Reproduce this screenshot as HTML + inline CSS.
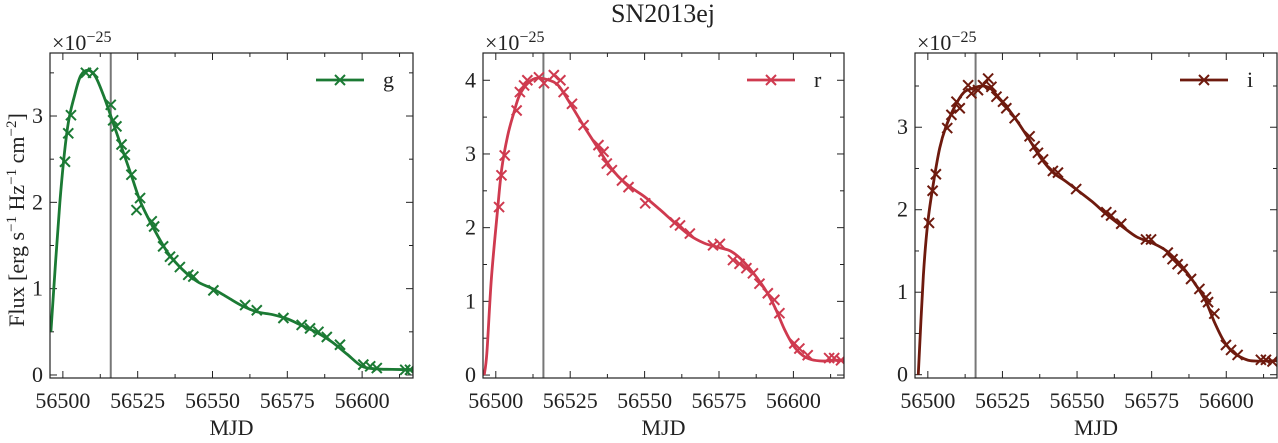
<!DOCTYPE html>
<html><head><meta charset="utf-8">
<style>
body{margin:0;background:#fff;width:1278px;height:438px;overflow:hidden;font-family:"Liberation Serif",serif;}
svg text{font-family:"Liberation Serif",serif;fill:#222;}
</style></head>
<body>
<svg id="fig" width="1278" height="438" xmlns="http://www.w3.org/2000/svg">
<text x="663" y="22" style="font-size:26px" text-anchor="middle">SN2013ej</text>
<text transform="translate(24,220) rotate(-90)" style="font-size:22px" text-anchor="middle">Flux [erg s<tspan baseline-shift="super" style="font-size:15px">−1</tspan> Hz<tspan baseline-shift="super" style="font-size:15px">−1</tspan> cm<tspan baseline-shift="super" style="font-size:15px">−2</tspan>]</text>
</svg>
<script>
const xTicks=[56500,56525,56550,56575,56600];
const xDomain=[56495.7,56617];
const peakMJD=56516;
const gX=[56500.7,56501.8,56502.7,56507.7,56510.1,56516,56516.8,56517.9,56519.6,56520.7,56522.9,56525.8,56524.6,56529.7,56530.5,56533.5,56535.8,56536.9,56539.1,56541.9,56543.6,56550.3,56560.9,56564.8,56573.7,56579.8,56582.6,56585.4,56588.2,56592.6,56600.4,56602.7,56604.9,56614.4,56616];
const gY=[2.47,2.80,3.01,3.50,3.50,3.13,2.95,2.88,2.67,2.55,2.32,2.05,1.91,1.78,1.72,1.49,1.37,1.33,1.25,1.16,1.14,0.98,0.81,0.75,0.66,0.58,0.54,0.50,0.44,0.35,0.12,0.10,0.08,0.06,0.06];
const gFitX=[56496,56499,56501.5,56504,56506,56508.5,56511,56514,56517,56520,56523,56526,56530,56535,56540,56545,56550,56555,56560,56565,56570,56575,56580,56585,56590,56595,56600,56605,56610,56617];
const gFitY=[0.5,2.0,2.85,3.25,3.47,3.53,3.45,3.2,2.9,2.6,2.3,2.0,1.72,1.42,1.22,1.08,1.0,0.9,0.8,0.73,0.7,0.65,0.57,0.49,0.38,0.24,0.1,0.07,0.065,0.06];
const rX=[56501.1,56501.9,56503,56507,56508.1,56509.5,56510.6,56514.5,56516.2,56519.5,56521.7,56522.8,56525.6,56529.5,56534.5,56536.2,56537.3,56539,56542.4,56544.6,56550.2,56560.2,56561.9,56565.2,56573,56575.3,56579.7,56581.9,56584.2,56586.4,56588.6,56591.4,56593.6,56595.3,56600.3,56602,56604.8,56612,56613.7,56616];
const rY=[2.28,2.71,2.98,3.59,3.84,3.93,4.0,4.04,3.96,4.07,4.0,3.84,3.68,3.39,3.12,3.03,2.87,2.78,2.64,2.55,2.33,2.07,2.03,1.92,1.76,1.78,1.56,1.51,1.45,1.38,1.24,1.11,1.02,0.84,0.43,0.36,0.27,0.23,0.23,0.20];
const rFitX=[56496.1,56497,56498.5,56500.5,56502,56504,56506,56508,56511,56514,56518,56521,56524,56527,56530,56534,56538,56542,56546,56550,56555,56560,56565,56570,56575,56579,56583,56587,56591,56594,56597,56600,56603,56606,56610,56614,56617];
const rFitY=[0,0.3,1.3,2.2,2.8,3.25,3.55,3.8,3.97,4.03,4.0,3.93,3.75,3.55,3.35,3.1,2.85,2.66,2.53,2.42,2.25,2.07,1.9,1.79,1.73,1.68,1.55,1.36,1.13,0.9,0.62,0.4,0.27,0.21,0.19,0.2,0.2];
const iX=[56500.4,56501.6,56502.7,56506.5,56507.9,56509.6,56510.7,56513.5,56514.6,56516.8,56518.5,56520.2,56521.3,56523,56525.2,56526.3,56529.1,56534.1,56535.8,56536.9,56538.6,56541.9,56543.6,56549.7,56559.8,56561.4,56564.8,56573.1,56574.8,56580.4,56582,56583.7,56585.4,56588.2,56591,56593.2,56593.9,56596,56599.9,56601.6,56603.8,56611.6,56613.3,56615.5];
const iY=[1.84,2.23,2.43,2.99,3.15,3.31,3.23,3.51,3.41,3.45,3.51,3.59,3.49,3.37,3.31,3.23,3.11,2.89,2.77,2.69,2.61,2.47,2.45,2.25,1.97,1.93,1.83,1.64,1.64,1.48,1.40,1.34,1.28,1.16,1.04,0.94,0.88,0.74,0.36,0.30,0.24,0.18,0.18,0.16];
const iFitX=[56496.8,56498.5,56500,56502,56504,56506,56509,56512,56515,56518,56521,56524,56527,56530,56534,56538,56542,56546,56550,56555,56560,56565,56570,56575,56580,56585,56589,56593,56596,56599,56602,56605,56608,56612,56617];
const iFitY=[0,1.2,1.85,2.35,2.75,3.0,3.25,3.42,3.47,3.5,3.47,3.35,3.22,3.07,2.85,2.62,2.45,2.35,2.24,2.1,1.94,1.8,1.67,1.6,1.5,1.32,1.13,0.9,0.64,0.42,0.28,0.21,0.17,0.165,0.17];

(function(){
const NS="http://www.w3.org/2000/svg";
const svg=document.getElementById('fig');
function mk(tag,attrs,parent){const e=document.createElementNS(NS,tag);for(const k in attrs)e.setAttribute(k,attrs[k]);(parent||svg).appendChild(e);return e;}
const panels=[
 {name:'g',left:50,right:413,yDom:[-0.035,3.73],yTicks:[0,1,2,3],color:'#1b7a34',X:gX,Y:gY,FX:gFitX,FY:gFitY},
 {name:'r',left:483,right:844,yDom:[-0.04,4.37],yTicks:[0,1,2,3,4],color:'#cf3a4f',X:rX,Y:rY,FX:rFitX,FY:rFitY},
 {name:'i',left:915,right:1277,yDom:[-0.04,3.9],yTicks:[0,1,2,3],color:'#6e1a0e',X:iX,Y:iY,FX:iFitX,FY:iFitY}
];
const yTop=53,yBot=378;
const FS='font-size:22px';
panels.forEach(p=>{
 const g=mk('g',{});
 
 
 const sx=v=>p.left+(v-xDomain[0])/(xDomain[1]-xDomain[0])*(p.right-p.left);
 const sy=v=>yBot-(v-p.yDom[0])/(p.yDom[1]-p.yDom[0])*(yBot-yTop);
 for(let v=56500;v<=56617;v+=12.5){
  const major=(v-56500)%25===0, L=major?7:4, x=sx(v);
  const t1=mk('line',{x1:x,x2:x,y1:yBot,y2:yBot-L,stroke:'#222','stroke-width':1},g);
  
  
  const t2=mk('line',{x1:x,x2:x,y1:yTop,y2:yTop+L,stroke:'#222','stroke-width':1},g);
  
  
 }
 xTicks.forEach(v=>{
  const t=mk('text',{x:sx(v),y:408,style:FS,'text-anchor':'middle'},g);t.textContent=v;
  
  
 });
 for(let v=0;v<=p.yDom[1];v+=0.5){
  const major=Math.abs(v-Math.round(v))<1e-6, L=major?7:4, y=sy(v);
  const t1=mk('line',{x1:p.left,x2:p.left+L,y1:y,y2:y,stroke:'#222','stroke-width':1},g);
  
  
  const t2=mk('line',{x1:p.right,x2:p.right-L,y1:y,y2:y,stroke:'#222','stroke-width':1},g);
  
  
 }
 p.yTicks.forEach(v=>{
  const t=mk('text',{x:p.left-7,y:sy(v)+7,style:FS,'text-anchor':'end'},g);t.textContent=v;
  
  
 });
 const xl=mk('text',{x:(p.left+p.right)/2,y:435,style:FS,'text-anchor':'middle'},g);xl.textContent='MJD';
 
 
 const sc=mk('text',{x:p.left+2,y:50,style:FS},g);
 sc.innerHTML='×10<tspan baseline-shift="super" style="font-size:16px">−25</tspan>';
 
 
 const vl=mk('line',{x1:sx(peakMJD),x2:sx(peakMJD),y1:yTop,y2:yBot,stroke:'#777','stroke-width':2},g);
 
 
 const cid='clip'+p.name;
 const cp=mk('clipPath',{id:cid},g);mk('rect',{x:p.left,y:yTop,width:p.right-p.left,height:yBot-yTop},cp);
 const cg=mk('g',{'clip-path':'url(#'+cid+')'},g);
 const pts=p.FX.map((x,k)=>[sx(x),sy(p.FY[k])]);
 let d='M'+pts[0][0]+','+pts[0][1];
 for(let k=0;k<pts.length-1;k++){
  const p0=pts[Math.max(0,k-1)],p1=pts[k],p2=pts[k+1],p3=pts[Math.min(pts.length-1,k+2)];
  const c1=[p1[0]+(p2[0]-p0[0])/6,p1[1]+(p2[1]-p0[1])/6],c2=[p2[0]-(p3[0]-p1[0])/6,p2[1]-(p3[1]-p1[1])/6];
  d+=' C'+c1.join(',')+' '+c2.join(',')+' '+p2.join(',');
 }
 const fl=mk('path',{d:d,fill:'none',stroke:p.color,'stroke-width':2.8},cg);
 
 
 p.X.forEach((x,k)=>{
  const cx=sx(x),cy=sy(p.Y[k]),s=5;
  const m=mk('path',{d:`M${cx-s},${cy-s}L${cx+s},${cy+s}M${cx-s},${cy+s}L${cx+s},${cy-s}`,stroke:p.color,'stroke-width':2},cg);
  
  
 });
 const fr=mk('rect',{x:p.left,y:yTop,width:p.right-p.left,height:yBot-yTop,fill:'none',stroke:'#222','stroke-width':1.2},g);
 
 
 const lg=mk('g',{},g);
 
 
 const lx=p.right-97,ly=80;
 mk('line',{x1:lx,x2:lx+48,y1:ly,y2:ly,stroke:p.color,'stroke-width':2.8},lg);
 mk('path',{d:`M${lx+19},${ly-5}L${lx+29},${ly+5}M${lx+19},${ly+5}L${lx+29},${ly-5}`,stroke:p.color,'stroke-width':2},lg);
 const lt=mk('text',{x:lx+67,y:ly+7,style:FS},lg);lt.textContent=p.name;
});
})();
</script>
</body></html>
